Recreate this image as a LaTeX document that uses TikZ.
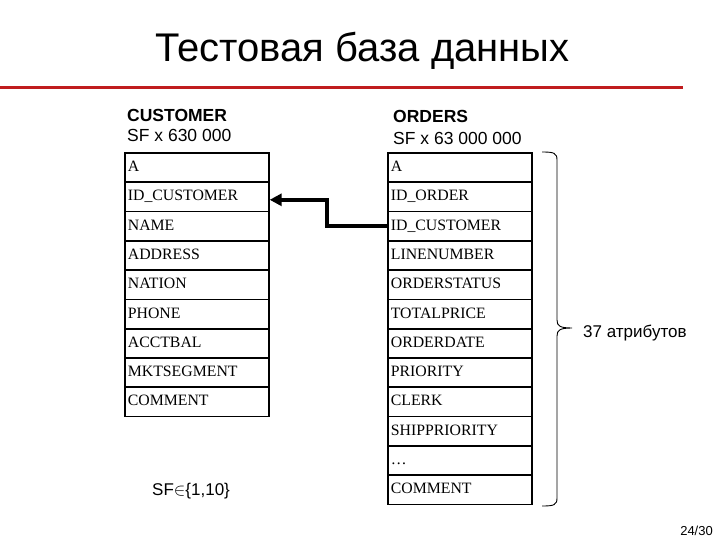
\documentclass[tikz,border=0pt]{standalone}
\usepackage{fontspec}
\setmainfont{Liberation Serif}
\newfontfamily\arialf{Liberation Sans}
\usetikzlibrary{arrows.meta}
\definecolor{titlered}{RGB}{192,28,30}
\begin{document}
\begin{tikzpicture}[x=1pt,y=-1pt,
  rowbox/.style={draw=black,line width=1.7pt,minimum width=144pt,minimum height=29.3pt,
    anchor=north west,inner xsep=3pt,inner ysep=0pt,text width=138pt,align=left,
    text height=11pt,text depth=3pt,
    font=\fontsize{15.8}{17}\selectfont},
  hdr/.style={anchor=base west,inner sep=0pt,font=\arialf\fontsize{17.5}{19}\selectfont},
  fk/.style={line width=3.8pt,-{Triangle[length=12pt,width=12pt]}},
  bracel/.style={line width=0.9pt}]
\useasboundingbox (0,0) rectangle (720,540);
% title
\node[anchor=base west,inner sep=0pt,font=\arialf\fontsize{40}{44}\selectfont] (title) at (155,62) {Тестовая база данных};
\coordinate (rl) at (0,88);
\coordinate (rr) at (683,88);
\draw[titlered,line width=3pt] (rl) -- (rr);
% headers
\node[hdr,font=\arialf\bfseries\fontsize{17.5}{19}\selectfont] (cname) at (127,122) {CUSTOMER};
\node[hdr] (csf) at (127,142) {SF x 630 000};
\node[hdr,font=\arialf\bfseries\fontsize{17.5}{19}\selectfont] (oname) at (393,123) {ORDERS};
\node[hdr] (osf) at (393,145) {SF x 63 000 000};
% customer table
\foreach \t [count=\i] in {A,ID\_CUSTOMER,NAME,ADDRESS,NATION,PHONE,ACCTBAL,MKTSEGMENT,COMMENT}{
  \node[rowbox] (c\i) at (124,{152+(\i-1)*29.3}) {\t};
}
% orders table
\foreach \t [count=\i] in {A,ID\_ORDER,ID\_CUSTOMER,LINENUMBER,ORDERSTATUS,TOTALPRICE,ORDERDATE,PRIORITY,CLERK,SHIPPRIORITY,\dots,COMMENT}{
  \node[rowbox] (o\i) at (387,{152+(\i-1)*29.3}) {\t};
}
% foreign key arrow
\draw[fk] (o3.west) -- ++(-60,0) |- ([yshift=-3pt]c2.east);
% brace
\node[anchor=base west,inner sep=0pt,font=\arialf\fontsize{17}{19}\selectfont] (attr) at (583,337) {37 атрибутов};
\coordinate (btop) at (542,152);
\coordinate (btip) at (572,328);
\coordinate (bbot) at (542,506);
\draw[bracel] (btop) .. controls (554,152) and (557,153) .. (557,160) -- (557,320)
   .. controls (557,326) and (560,328) .. (btip)
   .. controls (560,328) and (557,330) .. (557,336) -- (557,498)
   .. controls (557,505) and (554,506) .. (bbot);
% SF
\node[anchor=base west,inner sep=0pt,font=\arialf\fontsize{17}{19}\selectfont] (sf) at (152,495) {SF$\in$\{1,10\}};
% page number
\node[anchor=base east,inner sep=0pt,font=\arialf\fontsize{13}{15}\selectfont] (pg) at (713,535) {24/30};
\end{tikzpicture}
\end{document}
